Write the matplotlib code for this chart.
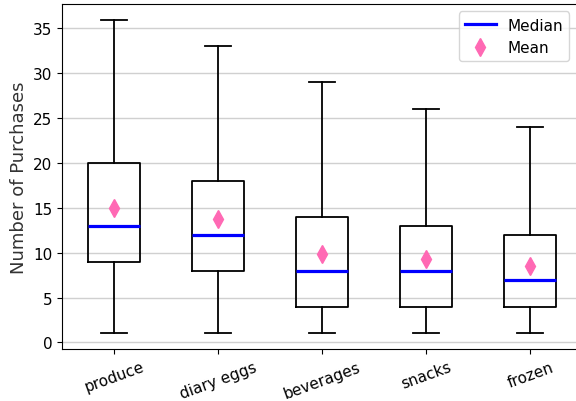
import matplotlib.pyplot as plt
from matplotlib.lines import Line2D

categories = ['produce', 'diary eggs', 'beverages', 'snacks', 'frozen']
whislo = [1, 1, 1, 1, 1]
q1 = [9, 8, 4, 4, 4]
med = [13, 12, 8, 8, 7]
q3 = [20, 18, 14, 13, 12]
whishi = [36, 33, 29, 26, 24]
means = [15.0, 13.8, 9.9, 9.25, 8.5]

stats = []
for i, name in enumerate(categories):
    stats.append({'label': name, 'whislo': whislo[i], 'q1': q1[i], 'med': med[i],
                  'q3': q3[i], 'whishi': whishi[i], 'mean': means[i], 'fliers': []})

fig = plt.figure(figsize=(5.76, 4.02), dpi=100)
ax = fig.add_axes([0.108, 0.129, 0.903, 0.859])

ax.bxp(stats, showmeans=True, showfliers=False,
       boxprops={'color': 'black', 'linewidth': 1.3},
       whiskerprops={'color': 'black', 'linewidth': 1.3},
       capprops={'color': 'black', 'linewidth': 1.3},
       medianprops={'color': 'blue', 'linewidth': 2.3},
       meanprops={'marker': 'd', 'markerfacecolor': 'hotpink', 'markeredgecolor': 'hotpink',
                  'markersize': 9})

ax.yaxis.grid(True, color='#d0d0d0', linewidth=1)
ax.set_axisbelow(True)
ax.set_ylabel('Number of Purchases', fontsize=13, color='#333333')
ax.tick_params(labelsize=11)
plt.setp(ax.get_xticklabels(), rotation=20)

handles = [Line2D([0], [0], color='blue', linewidth=2.3),
           Line2D([0], [0], marker='d', color='hotpink', linestyle='None', markersize=9)]
ax.legend(handles, ['Median', 'Mean'], loc='upper right', bbox_to_anchor=(0.99, 1.0), fontsize=11)

fig.savefig('out.png', dpi=100)
